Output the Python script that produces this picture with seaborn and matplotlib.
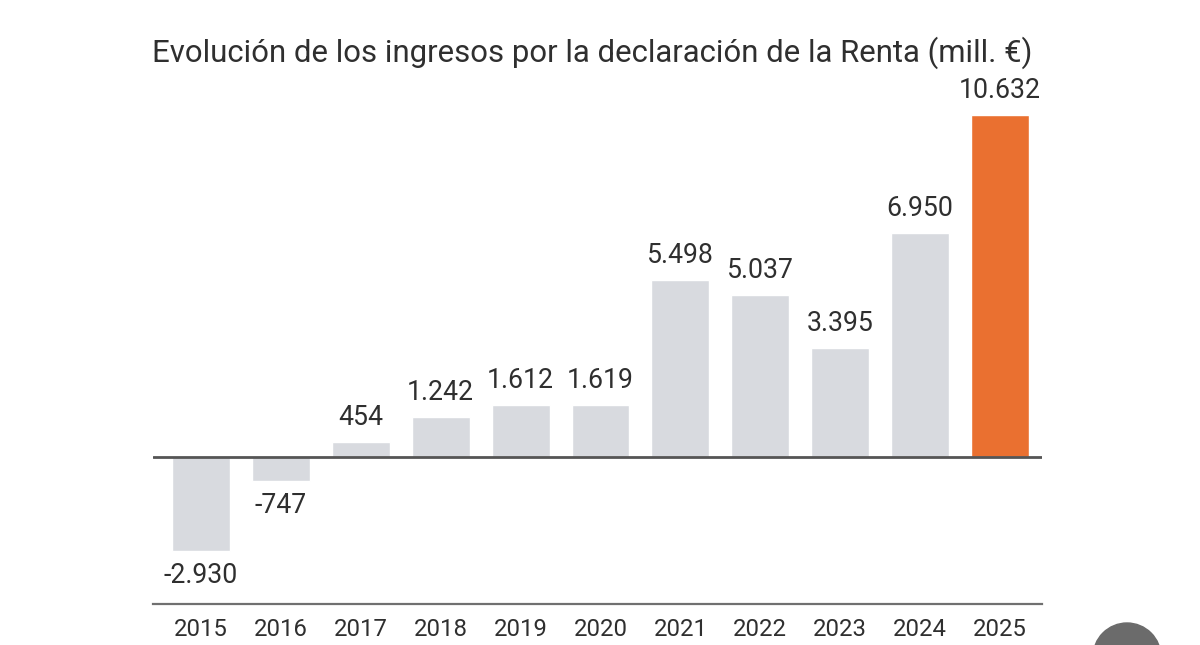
import numpy as np
import pandas as pd
import matplotlib.pyplot as plt
import seaborn as sns
from matplotlib.patches import Ellipse

# ── Data ──────────────────────────────────────────────────────────────────────
years  = ["2015", "2016", "2017", "2018", "2019", "2020",
          "2021", "2022", "2023", "2024", "2025"]
values = [-2930, -747, 454, 1242, 1612, 1619, 5498, 5037, 3395, 6950, 10632]
highlight = ["base"] * 10 + ["actual"]
title = "Evolución de los ingresos por la declaración de la Renta (mill. €)"

GRAY   = "#d8dadf"
ORANGE = "#ea7030"
TEXT   = "#2f2f2f"

df = pd.DataFrame({"year": years, "value": values, "group": highlight})

sns.set_theme(style="white")
plt.rcParams["font.family"] = ["Roboto", "DejaVu Sans"]

fig = plt.figure(figsize=(12, 6.45), dpi=100)
ax = fig.add_axes([153 / 1200, 1 - 604 / 645, (1042 - 153) / 1200, (604 - 80) / 645])

sns.barplot(data=df, x="year", y="value", hue="group",
            palette={"base": GRAY, "actual": ORANGE},
            dodge=False, width=0.725, saturation=1, legend=False, ax=ax)

ax.set_xlim(-0.6, 10.525)
ax.set_ylim(-4570, 11720)

# value labels
for cont in ax.containers:
    labels = [f"{int(v):,}".replace(",", ".") for v in cont.datavalues]
    ax.bar_label(cont, labels=labels, padding=8, fontsize=19.2, color=TEXT)

ax.axhline(0, color="#555555", lw=2, zorder=3)

sns.despine(ax=ax, left=True)
ax.spines["bottom"].set_color("#707070")
ax.spines["bottom"].set_linewidth(1.6)
ax.set_yticks([])
ax.set_xlabel("")
ax.set_ylabel("")
ax.tick_params(axis="x", length=0, pad=10, labelsize=17.2, colors=TEXT)

fig.text(152 / 1200, 1 - 62 / 645, title, fontsize=22.4, color=TEXT,
         ha="left", va="baseline")

# grey round button in the corner of the screenshot
fig.patches.append(Ellipse((1127 / 1200, 1 - 657 / 645), 68 / 1200, 68 / 645,
                           transform=fig.transFigure, color="#6b6b6b",
                           clip_on=False))

fig.savefig("out.png", dpi=100)
